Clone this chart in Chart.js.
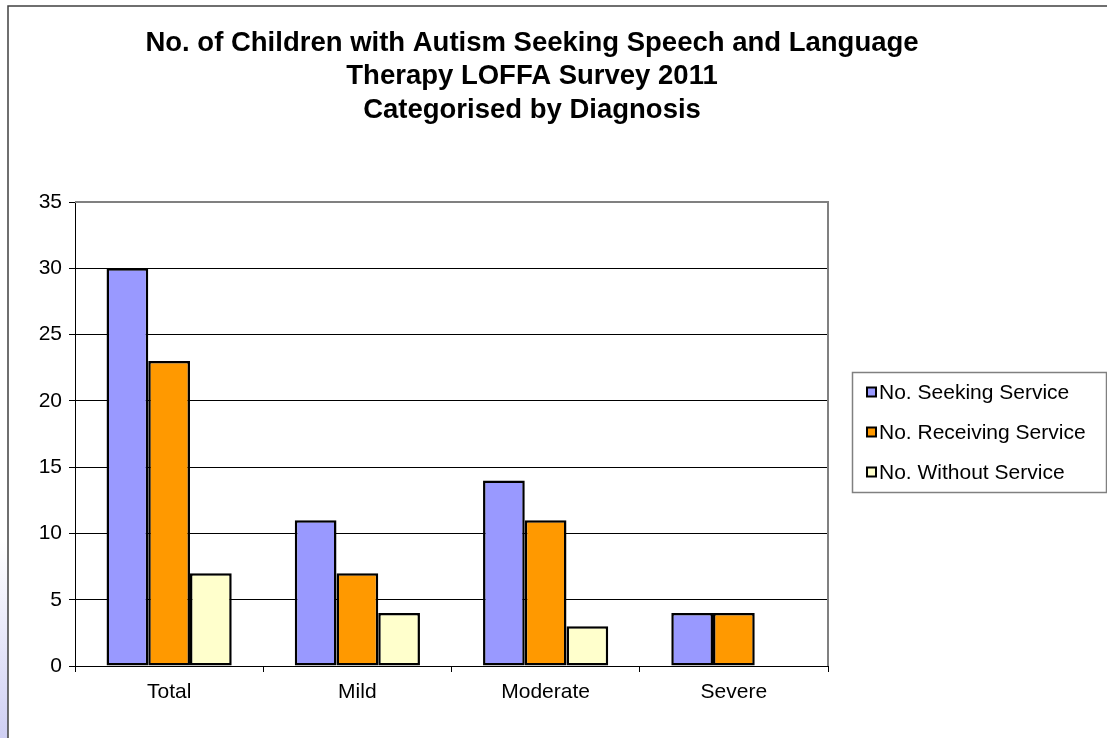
<!DOCTYPE html>
<html>
<head>
<meta charset="utf-8">
<title>Speech and Language Therapy by Diagnosis</title>
<script src="https://cdn.jsdelivr.net/npm/chart.js@4"></script>
<style>
  html, body { margin: 0; padding: 0; background: #fff; }
  #wrap { position: relative; width: 1107px; height: 738px; overflow: hidden; }
  /* faint lavender shade down the outer left edge */
  #glow {
    position: absolute; left: 0; top: 540px; width: 8px; height: 198px;
    background: linear-gradient(to bottom, rgba(205, 205, 245, 0), rgba(195, 195, 240, 0.8));
  }
  #diagnosis-chart { position: absolute; left: 0; top: 0; }
</style>
</head>
<body>
<div id="wrap">
  <div id="glow"></div>
  <canvas id="diagnosis-chart" width="1107" height="738"></canvas>
</div>
<script>
// Survey data, one value per diagnosis group
const categories = ["Total", "Mild", "Moderate", "Severe"];
const seekingService = [30, 11, 14, 4];
const receivingService = [23, 7, 11, 4];
const withoutService = [7, 4, 3, 0];

const seriesLabels = ["No. Seeking Service", "No. Receiving Service", "No. Without Service"];
const seriesColors = ["#9999FF", "#FF9900", "#FFFFCC"];

const yMin = 0;
const yMax = 35;
const yStep = 5;

const titleLines = [
  "No. of Children with Autism Seeking Speech and Language",
  "Therapy LOFFA Survey 2011",
  "Categorised by Diagnosis",
];

const FONT = "'Liberation Sans', Arial, sans-serif";

// Outer frame, title, plot border and the boxed legend
const chartDecor = {
  id: "chartDecor",
  beforeDraw(chart) {
    const { ctx, width, height } = chart;
    ctx.save();
    ctx.strokeStyle = "#404040";
    ctx.lineWidth = 1.5;
    ctx.beginPath();
    ctx.moveTo(8, height);
    ctx.lineTo(8, 6);
    ctx.lineTo(width, 6);
    ctx.stroke();

    ctx.fillStyle = "#000";
    ctx.font = "bold 27.5px " + FONT;
    ctx.textAlign = "center";
    ctx.textBaseline = "middle";
    titleLines.forEach((line, i) => {
      ctx.fillText(line, 532, 43 + i * 33.5);
    });
    ctx.restore();
  },
  beforeDatasetsDraw(chart) {
    const { ctx, chartArea: a } = chart;
    ctx.save();
    ctx.strokeStyle = "#808080";
    ctx.lineWidth = 2;
    ctx.beginPath();
    ctx.moveTo(a.left, a.top);
    ctx.lineTo(a.right, a.top);
    ctx.lineTo(a.right, a.bottom);
    ctx.stroke();
    ctx.restore();
  },
  afterDraw(chart) {
    const { ctx } = chart;
    ctx.save();
    ctx.strokeStyle = "#808080";
    ctx.lineWidth = 1.5;
    ctx.strokeRect(852.5, 372.5, 254, 120);

    ctx.font = "21px " + FONT;
    ctx.textAlign = "left";
    ctx.textBaseline = "middle";
    chart.data.datasets.forEach((ds, i) => {
      const y = 392 + i * 40;
      ctx.fillStyle = ds.backgroundColor;
      ctx.fillRect(867, y - 4.5, 9, 9);
      ctx.strokeStyle = "#000";
      ctx.lineWidth = 2;
      ctx.strokeRect(867, y - 4.5, 9, 9);
      ctx.fillStyle = "#000";
      ctx.fillText(ds.label, 879, y + 1);
    });
    ctx.restore();
  },
};

const makeDataset = (label, data, color) => ({
  label,
  data,
  backgroundColor: color,
  borderColor: "#000",
  borderWidth: 2.5,
  borderSkipped: false,
  categoryPercentage: 0.665,
  barPercentage: 1,
});

new Chart(document.getElementById("diagnosis-chart"), {
  type: "bar",
  data: {
    labels: categories,
    datasets: [
      makeDataset(seriesLabels[0], seekingService, seriesColors[0]),
      makeDataset(seriesLabels[1], receivingService, seriesColors[1]),
      makeDataset(seriesLabels[2], withoutService, seriesColors[2]),
    ],
  },
  options: {
    responsive: false,
    animation: false,
    layout: {
      padding: { top: 202, right: 279, bottom: 0, left: 0 },
    },
    scales: {
      x: {
        afterFit: (scale) => { scale.height = 72; },
        grid: {
          offset: true,
          drawOnChartArea: false,
          color: "#000",
          tickLength: 6,
        },
        border: { color: "#000", width: 1 },
        ticks: {
          color: "#000",
          padding: 8,
          font: { family: FONT, size: 21 },
        },
      },
      y: {
        min: yMin,
        max: yMax,
        afterFit: (scale) => { scale.width = 75; },
        grid: {
          color: "#000",
          lineWidth: 1,
          tickLength: 6,
        },
        border: { color: "#000", width: 1 },
        ticks: {
          stepSize: yStep,
          color: "#000",
          padding: 7,
          font: { family: FONT, size: 21 },
        },
      },
    },
    plugins: {
      legend: { display: false },
      title: { display: false },
      tooltip: { enabled: false },
    },
  },
  plugins: [chartDecor],
});
</script>
</body>
</html>
